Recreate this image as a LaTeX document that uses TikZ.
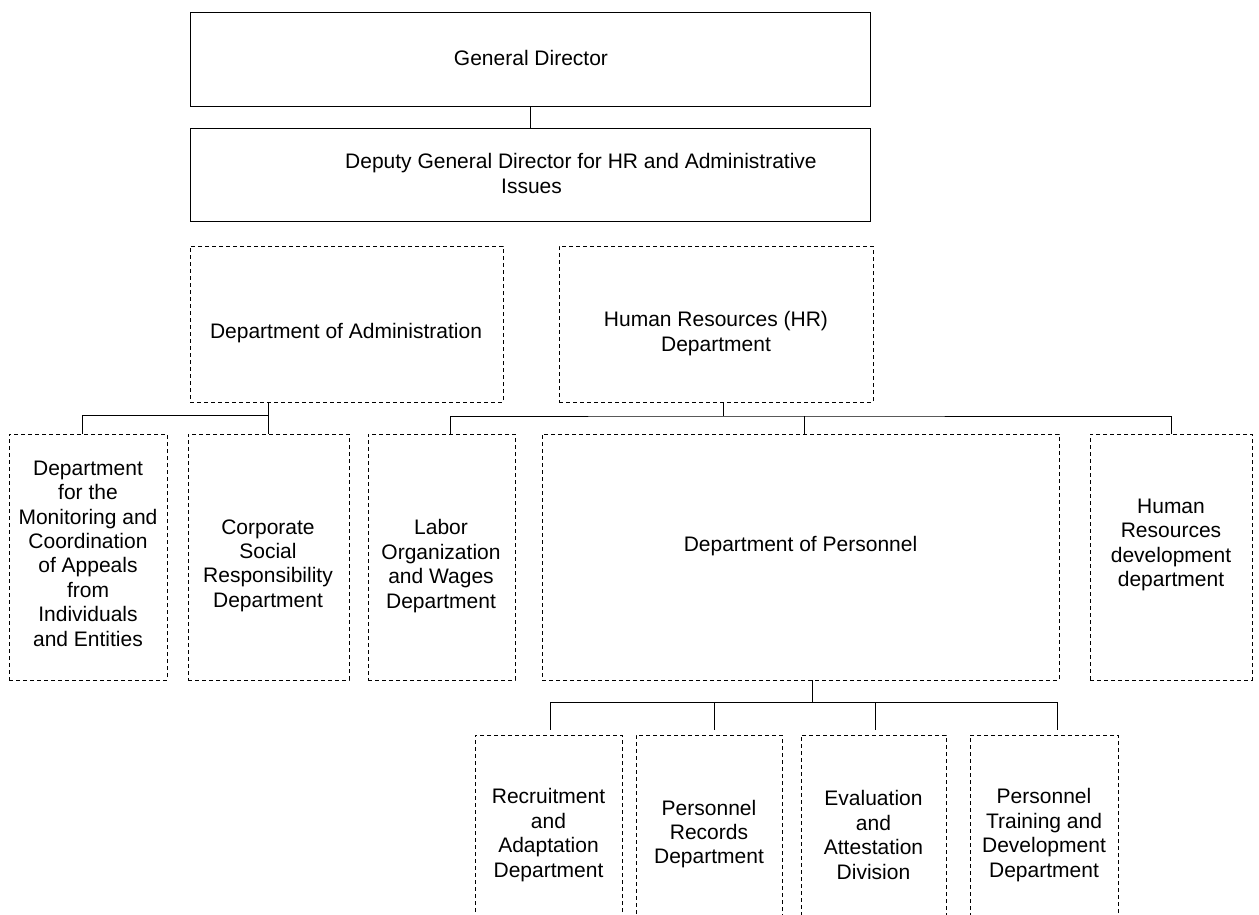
\documentclass[tikz,border=0pt]{standalone}
\usepackage{fontspec}
\setmainfont{Liberation Sans}
\begin{document}
\begin{tikzpicture}[x=1pt,y=-1pt,
  solidbox/.style={draw=black,line width=0.9pt,rectangle,inner sep=0pt},
  dbox/.style={draw=black,line width=0.8pt,dash pattern=on 4pt off 3pt,rectangle,inner sep=0pt},
  txt/.style={inner sep=0pt,align=center,font=\fontsize{21}{24.4}\selectfont},
  link/.style={draw=black,line width=0.9pt}]
\useasboundingbox (0,0) rectangle (1259,914);
\clip (0,0) rectangle (1259,914);

% top management
\node[solidbox,minimum width=680pt,minimum height=94pt] (gd) at (530,59) {};
\node[txt] (gdT) at (531,58) {General Director};
\node[solidbox,minimum width=680pt,minimum height=93pt] (dep) at (530,174.5) {};
\node[txt,align=left,anchor=west] (depT) at (345,173.5)
  {Deputy General Director for HR and Administrative\\\hspace*{156pt}Issues};
\draw[link] (gd.south) -- (dep.north);

% second level
\node[dbox,minimum width=313pt,minimum height=156pt] (adm) at (346.5,324) {};
\node[txt] (admT) at (346,333) {Department of Administration};
\node[dbox,minimum width=314pt,minimum height=156pt] (hr) at (716,324) {};
\node[txt] (hrT) at (716,333.5) {Human Resources (HR)\\Department};

% third level
\node[dbox,minimum width=158pt,minimum height=246pt] (a) at (88,557) {};
\node[txt] (aT) at (88,553.5) {Department\\for the\\Monitoring and\\Coordination\\of Appeals\\from\\Individuals\\and Entities};
\node[dbox,minimum width=161pt,minimum height=246pt] (b) at (268.5,557) {};
\node[txt] (bT) at (268,565.5) {Corporate\\Social\\Responsibility\\Department};
\node[dbox,minimum width=147pt,minimum height=246pt] (c) at (441.5,557) {};
\node[txt] (cT) at (441,566) {Labor\\Organization\\and Wages\\Department};
\node[dbox,minimum width=517pt,minimum height=246pt] (per) at (800.5,557) {};
\node[txt] (perT) at (800.5,546) {Department of Personnel};
\node[dbox,minimum width=162pt,minimum height=246pt] (hrd) at (1171,557) {};
\node[txt] (hrdT) at (1171,545) {Human\\Resources\\development\\department};

% fourth level
\node[dbox,minimum width=147pt,minimum height=205pt] (r) at (548.5,837.5) {};
\node[txt] (rT) at (548.5,835) {Recruitment\\and\\Adaptation\\Department};
\node[dbox,minimum width=146pt,minimum height=205pt] (p) at (709,837.5) {};
\node[txt] (pT) at (709,834) {Personnel\\Records\\Department};
\node[dbox,minimum width=145pt,minimum height=205pt] (e) at (873.5,837.5) {};
\node[txt] (eT) at (873.5,835) {Evaluation\\and\\Attestation\\Division};
\node[dbox,minimum width=148pt,minimum height=205pt] (t) at (1044,837.5) {};
\node[txt] (tT) at (1044,835) {Personnel\\Training and\\Development\\Department};

% administration branch
\coordinate (ab) at (268,415);
\draw[link] (adm.south -| ab) -- (ab |- b.north);
\draw[link] (ab) -| ([xshift=-6pt]a.north);

% HR branch
\coordinate (hb) at (723,416);
\draw[link] (hr.south -| hb) -- (hb);
\draw[link] ([xshift=8.5pt]c.north) |- (hb) -| (hrd.north);
\draw[link] ([xshift=3.5pt]per.north) -- ([xshift=3.5pt]per.north |- hb);

% personnel branch
\coordinate (pb) at (812,702);
\draw[link] (per.south -| pb) -- (pb);
\draw[link] ([xshift=1.5pt,yshift=5pt]r.north) |- (pb) -| ([xshift=13pt,yshift=5pt]t.north);
\draw[link] ([xshift=5pt,yshift=5pt]p.north) -- ([xshift=5pt]p.north |- pb);
\draw[link] ([xshift=1.5pt,yshift=5pt]e.north) -- ([xshift=1.5pt]e.north |- pb);
\end{tikzpicture}
\end{document}
